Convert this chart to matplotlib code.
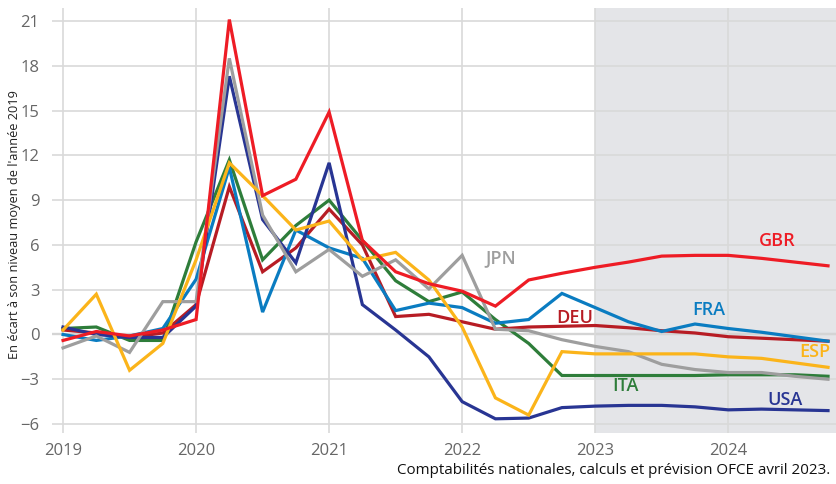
import numpy as np
import matplotlib
matplotlib.use("Agg")
import matplotlib.pyplot as plt

plt.rcParams['font.family'] = ['Open Sans', 'DejaVu Sans']

# quarterly points, 2019Q1 .. 2024Q4
quarters = np.arange(2019, 2025, 0.25)

gbr = [-0.4, 0.2, -0.1, 0.3, 1.0, 21.1, 9.3, 10.4, 14.9, 6.3, 4.2, 3.4,
       2.9, 1.9, 3.65, 4.1, 4.5, 4.85, 5.25, 5.3, 5.3, 5.1, 4.85, 4.6]
deu = [0.3, 0.1, -0.2, 0.1, 2.0, 9.9, 4.2, 5.8, 8.4, 6.0, 1.2, 1.35,
       0.85, 0.35, 0.5, 0.55, 0.6, 0.45, 0.25, 0.1, -0.15, -0.25, -0.35, -0.45]
fra = [0.0, -0.4, -0.1, 0.4, 3.7, 11.2, 1.5, 7.0, 5.8, 5.1, 1.6, 2.1,
       1.8, 0.75, 1.0, 2.75, 1.8, 0.85, 0.2, 0.7, 0.4, 0.15, -0.15, -0.45]
esp = [0.3, 2.7, -2.4, -0.6, 5.0, 11.5, 9.3, 7.0, 7.6, 5.0, 5.5, 3.65,
       0.5, -4.25, -5.4, -1.15, -1.3, -1.3, -1.3, -1.3, -1.5, -1.6, -1.9, -2.2]
ita = [0.4, 0.5, -0.4, -0.4, 6.2, 11.7, 5.0, 7.3, 9.0, 6.3, 3.6, 2.2,
       2.85, 1.0, -0.6, -2.75, -2.75, -2.75, -2.75, -2.75, -2.7, -2.7, -2.7, -2.8]
usa = [0.5, 0.0, -0.2, -0.2, 1.9, 17.3, 7.7, 4.8, 11.5, 2.0, 0.3, -1.5,
       -4.5, -5.65, -5.6, -4.9, -4.8, -4.75, -4.75, -4.85, -5.05, -5.0, -5.05, -5.1]
jpn = [-0.9, -0.1, -1.2, 2.2, 2.2, 18.5, 8.0, 4.2, 5.7, 3.9, 5.0, 3.05,
       5.3, 0.35, 0.25, -0.35, -0.8, -1.15, -2.0, -2.35, -2.55, -2.55, -2.8, -3.0]

series = [
    ("ITA", ita, "#2E7D3A", (2023.23, -3.45)),
    ("DEU", deu, "#B71C24", (2022.85, 1.1)),
    ("FRA", fra, "#0A7CC1", (2023.85, 1.64)),
    ("USA", usa, "#283593", (2024.43, -4.4)),
    ("JPN", jpn, "#9E9E9E", (2022.29, 5.08)),
    ("ESP", esp, "#FBB41A", (2024.65, -1.2)),
    ("GBR", gbr, "#EE1C25", (2024.37, 6.26)),
]

fig = plt.figure(figsize=(8.36, 4.84), dpi=100)
ax = fig.add_axes([0.0622, 0.1054, 0.9378, 0.878])

ax.set_xlim(2018.917, 2024.81)
ax.set_ylim(-6.6, 21.87)

# forecast zone
ax.axvspan(2023, 2024.81, color="#E4E5E8", zorder=0, lw=0)

ax.set_yticks(np.arange(-6, 22, 3))
ax.set_xticks(np.arange(2019, 2025))
ax.grid(True, color="#D9D9D9", lw=1.2, zorder=1)
ax.axhline(0, color="#BDBDBD", lw=1.6, zorder=1)
for s in ax.spines.values():
    s.set_visible(False)
ax.tick_params(length=0, labelsize=12, colors="#666666")
ax.tick_params(axis="y", pad=9)
ax.tick_params(axis="x", pad=7)

for name, vals, col, pos in series:
    ax.plot(quarters, vals, color=col, lw=2.3, zorder=3, solid_joinstyle="miter")
    ax.text(pos[0], pos[1], name, color=col, fontsize=13, fontweight="semibold",
            ha="center", va="center", zorder=4)

fig.text(0.017, 0.535, "En écart à son niveau moyen de l'année 2019", rotation=90,
         ha="center", va="center", fontsize=9.2, color="#222222")
fig.text(0.993, 0.028, "Comptabilités nationales, calculs et prévision OFCE avril 2023.",
         ha="right", va="center", fontsize=10.9, color="#111111")

fig.savefig("out.png", dpi=100)
